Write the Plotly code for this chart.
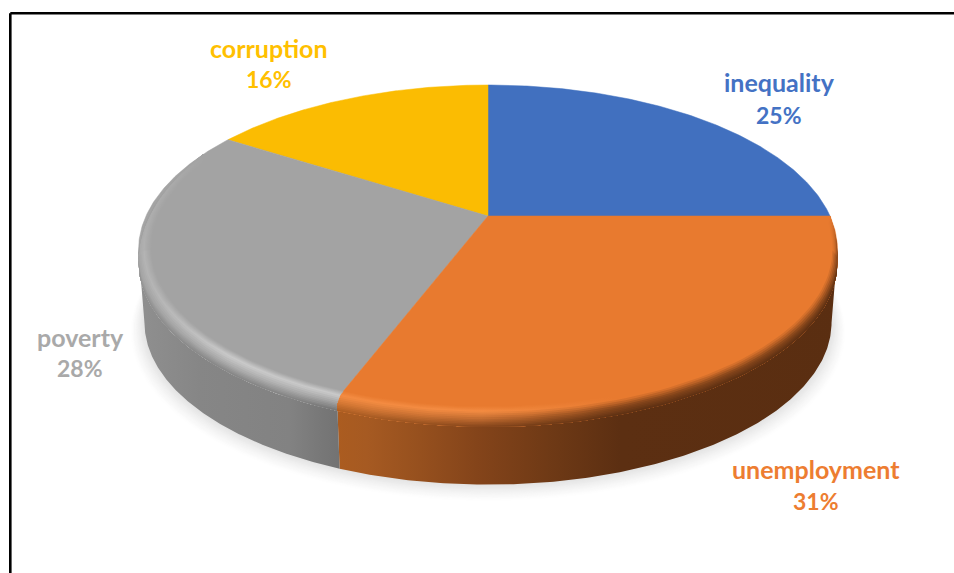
import numpy as np
import plotly.graph_objects as go

categories = ["inequality", "unemployment", "poverty", "corruption"]
values = [25, 30.8, 28.2, 16]
face_colors = ["#4170BF", "#E87A2F", "#A3A3A3", "#FBBC02"]
text_colors = ["#4472C4", "#ED7D31", "#A9A9A9", "#FFC000"]
label_centers = [(779, 82, 115), (816, 469, 501), (80, 337, 368), (269, 47.5, 79)]

# projective view of the disc
CX, CY, A, B, K = 488.0, 216.0, 342.0, 158.0, 0.206
DROP, SCALE = 73.0, 0.983
TAN_R, TAN_L = 102.0, 258.0


def proj(a, r=1.0, dy=0.0, s=1.0):
    t = np.radians(a)
    X, Y = r * np.sin(t), r * np.cos(t)
    w = 1 + K * Y
    return CX + s * A * X / w, CY + dy - s * B * Y / w


def rgb(h):
    return np.array([int(h[i:i + 2], 16) for i in (1, 3, 5)], float)


def mix(c1, c2, t):
    return c1 + (c2 - c1) * t


def css(c):
    v = np.clip(np.round(c), 0, 255).astype(int)
    return "rgb(%d,%d,%d)" % tuple(v)


side_stops = {
    1: ([337, 367, 420, 477, 560, 620, 850],
        ["#AB5C20", "#A65A22", "#96501E", "#84441A", "#6C3815", "#5C2F12", "#5A2E11"]),
    2: ([140, 200, 290, 320, 340], ["#8F8F8F", "#868686", "#828282", "#787878", "#727272"]),
}
highlights = {1: "#F48C42", 2: "#CACACA"}


def side_color(i, x):
    xs, cs = side_stops[i]
    arr = np.array([rgb(c) for c in cs])
    return np.array([np.interp(x, xs, arr[:, k]) for k in range(3)])


total = sum(values)
edges = np.cumsum([0] + values) / total * 360.0

fig = go.Figure()


def add_fill(xs, ys, color=None, gradient=None):
    kw = dict(fillgradient=gradient) if gradient else dict(fillcolor=color)
    fig.add_trace(go.Scatter(x=list(xs), y=list(ys), mode="lines", fill="toself",
                             line=dict(width=0), hoverinfo="skip", showlegend=False, **kw))


def gradient_from(xs, cols):
    order = np.argsort(xs)
    xs = np.asarray(xs)[order]
    x0, x1 = xs[0], xs[-1]
    span = max(x1 - x0, 1e-6)
    stops, last = [], -1.0
    for x, k in zip(xs, order):
        t = (x - x0) / span
        if t > last + 1e-4:
            stops.append([float(t), css(cols[k])])
            last = t
    stops[0][0], stops[-1][0] = 0.0, 1.0
    return dict(type="horizontal", start=float(x0), stop=float(x1), colorscale=stops)


# soft shadow
full = np.linspace(0, 360, 361)
for t in np.linspace(1, 0, 16):
    level = 255 - (255 - 226) * (1 - t) ** 1.25
    sx, sy = proj(full, 1.0, DROP + 9 * t, SCALE + 0.042 * t)
    add_fill(sx, sy, color=css(np.array([level] * 3)))

# side wall: top rim and bottom rim between the silhouette tangents
for i, lo, hi in ((1, TAN_R, edges[2]), (2, edges[2], TAN_L)):
    aa = np.linspace(lo, hi, 200)
    tx, ty = proj(aa)
    bx, by = proj(aa[::-1], 1.0, DROP, SCALE)
    xs, cs = side_stops[i]
    grad = dict(type="horizontal", start=float(xs[0]), stop=float(xs[-1]),
                colorscale=[[(x - xs[0]) / (xs[-1] - xs[0]), css(rgb(c))] for x, c in zip(xs, cs)])
    add_fill(np.r_[tx, bx, tx[0]], np.r_[ty, by, ty[0]], gradient=grad)

# top faces, orange last so it sits over the centre
for i in (0, 3, 2, 1):
    aa = np.linspace(edges[i], edges[i + 1], 160)
    ex, ey = proj(aa)
    fig.add_trace(go.Scatter(x=[CX] + list(ex) + [CX], y=[CY] + list(ey) + [CY], mode="lines",
                             fill="toself", fillcolor=face_colors[i],
                             line=dict(color=face_colors[i], width=0.5),
                             hoverinfo="skip", showlegend=False, name=categories[i]))

# bevel between face and wall, inner layer first; each layer paints out to the wall
profile_u = np.array([0.0, 0.42, 0.68, 1.0])
profile_r = np.array([0.965, 0.985, 1.0, 1.0])
profile_d = np.array([0.0, 0.0, 4.0, 12.0])


def fade_at(a):
    return np.minimum(np.clip((a - 90) / 14, 0, 1), np.clip((295 - a) / 40, 0, 1))


def bevel_color(i, a, x, um):
    F, H = rgb(face_colors[i]), rgb(highlights[i])
    w = np.clip((620 - x) / 140, 0, 1)
    soft = 0.45 + 0.55 * np.clip((x - 150) / 80, 0, 1)
    S = side_color(i, x)
    if a > TAN_L:
        S = mix(F, S, 0.35)
    top = mix(F, H, w * soft)
    midc = mix(top, S, 0.45 + 0.25 * (1 - w))
    if um < 0.42:
        c = mix(F, top, um / 0.42)
    elif um < 0.68:
        c = mix(top, midc, (um - 0.42) / 0.26)
    else:
        c = mix(midc, S, (um - 0.68) / 0.32)
    return mix(F, c, float(fade_at(a)))


segments = [(1, 90.0, TAN_R), (1, TAN_R, edges[2]), (2, edges[2], TAN_L), (2, TAN_L, 295.0)]
layers = np.linspace(0, 1, 17)
for u0, u1 in zip(layers[:-1], layers[1:]):
    um = (u0 + u1) / 2
    r0 = np.interp(u0, profile_u, profile_r)
    d0 = np.interp(u0, profile_u, profile_d)
    r1 = profile_r[-1]
    d1 = profile_d[-1]
    for i, lo, hi in segments:
        aa = np.linspace(lo, hi, 60)
        fd = fade_at(aa)
        ix, iy = proj(aa, r0, d0 * fd)
        ox, oy = proj(aa[::-1], r1, d1 * fd[::-1])
        gx, _ = proj(aa, (r0 + r1) / 2)
        cols = [bevel_color(i, a, x, um) for a, x in zip(aa, gx)]
        add_fill(np.r_[ix, ox, ix[0]], np.r_[iy, oy, iy[0]], gradient=gradient_from(gx, cols))

annotations = []
for name, val, col, (lx, y1, y2) in zip(categories, values, text_colors, label_centers):
    for txt, ly, size in ((name, y1, 25), (f"{round(val)}%", y2, 23)):
        annotations.append(dict(x=lx, y=ly, xref="x", yref="y", text=f"<b>{txt}</b>", showarrow=False,
                                xanchor="center", yanchor="middle",
                                font=dict(family="Lato", size=size, color=col)))

frame = dict(color="#000000", width=2.6)
fig.update_layout(
    width=954, height=573, margin=dict(l=0, r=0, t=0, b=0),
    paper_bgcolor="white", plot_bgcolor="white", showlegend=False,
    xaxis=dict(range=[0, 954], visible=False, fixedrange=True),
    yaxis=dict(range=[573, 0], visible=False, fixedrange=True),
    annotations=annotations,
    shapes=[
        dict(type="line", xref="x", yref="y", x0=10.3, x1=954, y0=13.3, y1=13.3, line=frame),
        dict(type="line", xref="x", yref="y", x0=10.3, x1=10.3, y0=13.3, y1=573, line=frame),
    ],
)
fig.write_html("out.html", config={"displayModeBar": False},
               post_script="document.body.style.margin='0';document.documentElement.style.overflow='hidden';")
